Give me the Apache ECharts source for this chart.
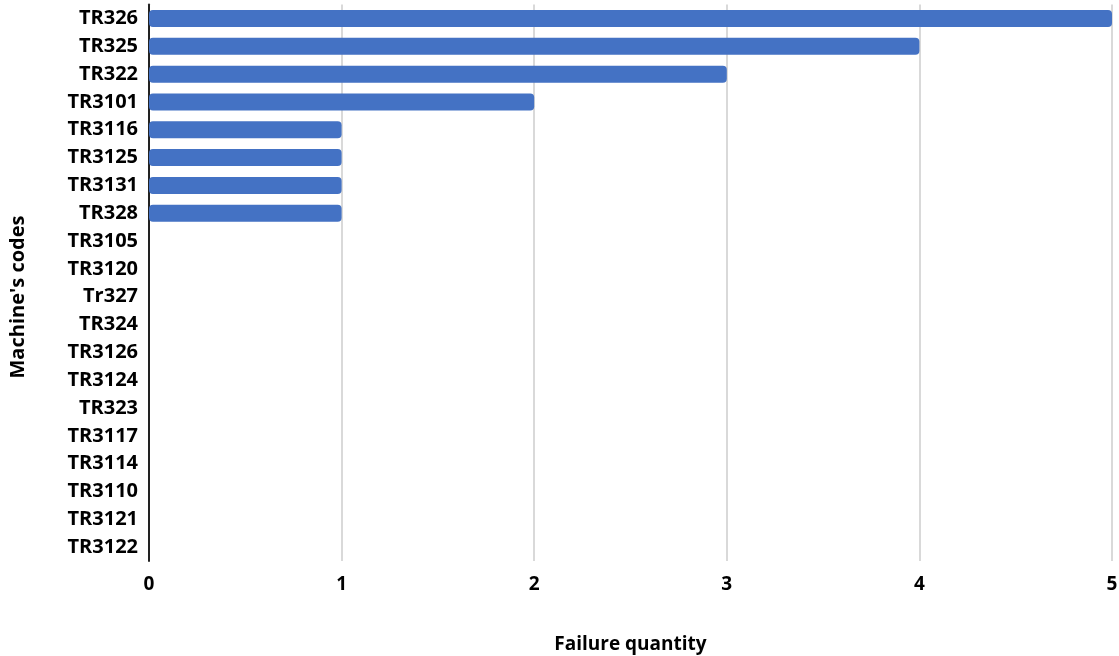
<!DOCTYPE html>
<html>
<head>
<meta charset="utf-8">
<script src="https://cdn.jsdelivr.net/npm/echarts@6/dist/echarts.min.js"></script>
<style>
  html, body { margin: 0; padding: 0; background: #fff; overflow: hidden; }
  #chart { width: 1119px; height: 656px; }
</style>
</head>
<body>
<div id="chart"></div>
<script>
// Machine codes, top to bottom
const machineCodes = [
  'TR326', 'TR325', 'TR322', 'TR3101', 'TR3116', 'TR3125', 'TR3131', 'TR328',
  'TR3105', 'TR3120', 'Tr327', 'TR324', 'TR3126', 'TR3124', 'TR323', 'TR3117',
  'TR3114', 'TR3110', 'TR3121', 'TR3122'
];
// Number of failures per machine
const failureCounts = [5, 4, 3, 2, 1, 1, 1, 1, 0, 0, 0, 0, 0, 0, 0, 0, 0, 0, 0, 0];
const xTicks = [0, 1, 2, 3, 4, 5];

const FONT = '"Open Sans", "DejaVu Sans", sans-serif';
const chart = echarts.init(document.getElementById('chart'), null, { renderer: 'canvas' });

chart.setOption({
  animation: false,
  backgroundColor: '#ffffff',
  grid: {
    left: 149, right: 7, top: 4.6, bottom: 95,
    containLabel: false,
    outerBoundsMode: 'none'
  },
  xAxis: {
    type: 'value',
    min: xTicks[0],
    max: xTicks[xTicks.length - 1],
    interval: 1,
    name: 'Failure quantity',
    nameLocation: 'middle',
    nameGap: 74,
    nameTextStyle: { fontFamily: FONT, fontWeight: 'bold', fontSize: 19, color: '#000' },
    axisLine: { show: false },
    axisTick: { show: false },
    axisLabel: { fontFamily: FONT, fontWeight: 'bold', fontSize: 19, color: '#000', margin: 14 },
    splitLine: { show: true, lineStyle: { color: '#d9d9d9', width: 2 } }
  },
  yAxis: {
    type: 'category',
    data: machineCodes,
    inverse: true,
    axisLine: { show: true, lineStyle: { color: '#222', width: 2 } },
    axisTick: { show: false },
    axisLabel: { fontFamily: FONT, fontWeight: 'bold', fontSize: 20, color: '#000', margin: 11 },
    splitLine: { show: false }
  },
  graphic: [{
    type: 'text',
    rotation: Math.PI / 2,
    x: 18,
    y: 297,
    style: {
      text: "Machine's codes",
      font: 'bold 20px ' + FONT,
      fill: '#000',
      textAlign: 'center',
      textVerticalAlign: 'middle'
    }
  }],
  series: [{
    type: 'bar',
    data: failureCounts,
    barCategoryGap: '39%',
    itemStyle: { color: '#4472c4', borderRadius: 4 }
  }]
});
</script>
</body>
</html>
